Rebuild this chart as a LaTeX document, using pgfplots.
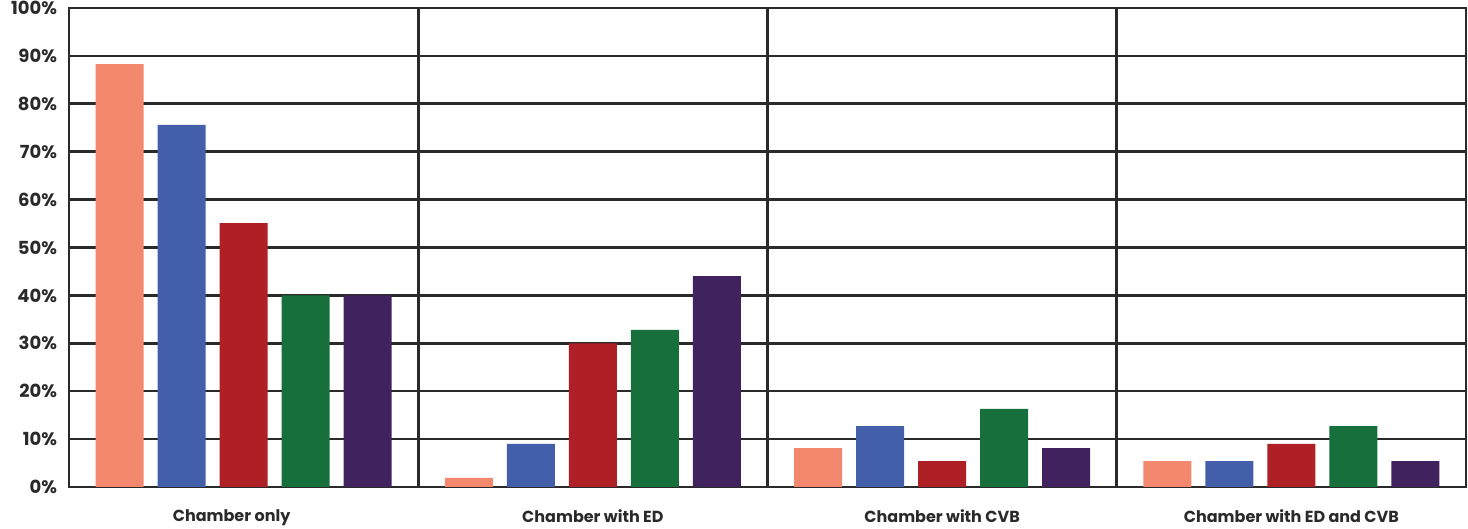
\documentclass[border=0pt]{standalone}
\usepackage{pgfplots}
\pgfplotsset{compat=1.18}
\usepackage{fontspec}
\setmainfont{Poppins}

\definecolor{cSalmon}{HTML}{F4886F}
\definecolor{cBlue}{HTML}{445FA9}
\definecolor{cRed}{HTML}{AE2026}
\definecolor{cGreen}{HTML}{17703B}
\definecolor{cPurple}{HTML}{40225F}
\definecolor{cLine}{HTML}{2A2A2A}

\begin{document}
\begin{tikzpicture}
\begin{axis}[
  scale only axis,
  width=698.5pt, height=239.5pt,
  xmin=0, xmax=4, ymin=0, ymax=100,
  ybar=7pt, bar width=24pt,
  xtick={0.5,1.5,2.5,3.5},
  xticklabels={Chamber only\hspace*{12pt}, Chamber with ED, Chamber with CVB, Chamber with ED and CVB},
  extra x ticks={1,2,3},
  extra x tick labels={},
  extra x tick style={xmajorgrids=true},
  ytick={0,10,...,100},
  yticklabel={\pgfmathprintnumber{\tick}\%},
  /pgf/number format/assume math mode=true,
  ymajorgrids,
  major tick length=0pt,
  axis line style={line width=1.3pt, draw=cLine},
  grid style={line width=1.3pt, draw=cLine},
  tick label style={text=cLine},
  xticklabel style={font=\bfseries\fontsize{8}{9}\selectfont, yshift=-8pt},
  yticklabel style={font=\bfseries\fontsize{9}{10}\selectfont, xshift=-2.5pt},
]
\addplot[fill=cSalmon, draw=none] coordinates {(0.5,88.3) (1.5,1.9) (2.5,8.1) (3.5,5.4)};
\addplot[fill=cBlue,   draw=none] coordinates {(0.5,75.6) (1.5,9.0) (2.5,12.7) (3.5,5.4)};
\addplot[fill=cRed,    draw=none] coordinates {(0.5,55.1) (1.5,30.0) (2.5,5.4) (3.5,9.0)};
\addplot[fill=cGreen,  draw=none] coordinates {(0.5,40.0) (1.5,32.8) (2.5,16.3) (3.5,12.7)};
\addplot[fill=cPurple, draw=none] coordinates {(0.5,40.0) (1.5,44.0) (2.5,8.1) (3.5,5.4)};
\coordinate (bl) at (rel axis cs:0,0);
\coordinate (tr) at (rel axis cs:1,1);
\end{axis}
% fixed page frame around the plot area
\pgfresetboundingbox
\path ([xshift=-34.5pt, yshift=-21pt]bl) rectangle ([xshift=1pt, yshift=4pt]tr);
\end{tikzpicture}
\end{document}
